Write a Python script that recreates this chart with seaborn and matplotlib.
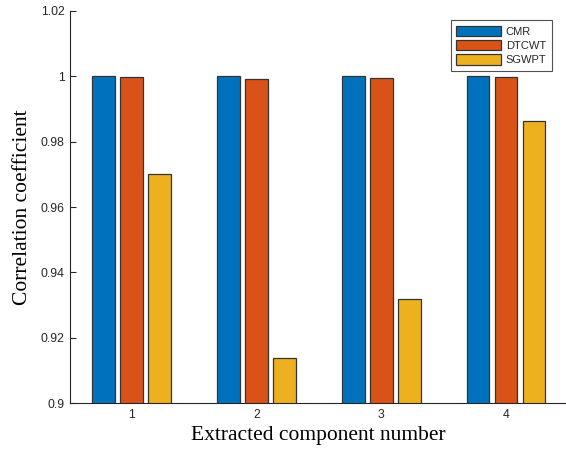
import matplotlib
matplotlib.use("Agg")
import matplotlib.pyplot as plt
import seaborn as sns
import pandas as pd

components = ["1", "2", "3", "4"]
methods = ["CMR", "DTCWT", "SGWPT"]
cmr = [0.99998, 0.99997, 0.99998, 0.99998]
dtcwt = [0.9998, 0.9991, 0.9994, 0.9998]
sgwpt = [0.9702, 0.9138, 0.9320, 0.9862]
colors = ["#0072BD", "#D95319", "#EDB120"]

rows = []
for m, vals in zip(methods, [cmr, dtcwt, sgwpt]):
    for c, v in zip(components, vals):
        rows.append({"comp": c, "method": m, "value": v})
df = pd.DataFrame(rows)

sns.set_style("white")
plt.rcParams["font.family"] = ["Liberation Sans", "DejaVu Sans"]

fig = plt.figure(figsize=(5.66, 4.51), dpi=100)
ax = fig.add_axes([70/566, 47.7/451, 496/566, 392.6/451])

sns.barplot(data=df, x="comp", y="value", hue="method", order=components,
            hue_order=methods, palette=colors, width=0.675, gap=0.19,
            edgecolor="#333333", linewidth=0.9, saturation=1, ax=ax,
            errorbar=None)

ax.set_ylim(0.9, 1.02)
ax.set_xlim(-0.4945, 3.481)
ax.set_yticks([0.9, 0.92, 0.94, 0.96, 0.98, 1.0, 1.02])
ax.set_yticklabels(["0.9", "0.92", "0.94", "0.96", "0.98", "1", "1.02"])
ax.tick_params(axis="both", direction="in", length=4, width=0.8,
               labelsize=8.8, colors="#262626", pad=4, bottom=True, left=True)
for s in ["top", "right"]:
    ax.spines[s].set_visible(False)
for s in ["left", "bottom"]:
    ax.spines[s].set_color("#262626")
    ax.spines[s].set_linewidth(0.8)

ax.set_xlabel("Extracted component number", family=["Liberation Serif"],
              fontsize=15.5, color="black", labelpad=4)
ax.set_ylabel("Correlation coefficient", family=["Liberation Serif"],
              fontsize=15.5, color="black", labelpad=6)

leg = ax.legend(loc="upper right", bbox_to_anchor=(552/566, 1 - 20/451),
                bbox_transform=fig.transFigure, borderaxespad=0,
                fontsize=8, frameon=True, fancybox=False, edgecolor="#262626",
                handlelength=4.05, handleheight=1.08, labelspacing=0.3,
                handletextpad=0.4, borderpad=0.5)
leg.get_frame().set_linewidth(0.8)

fig.savefig("out.png", dpi=100)
